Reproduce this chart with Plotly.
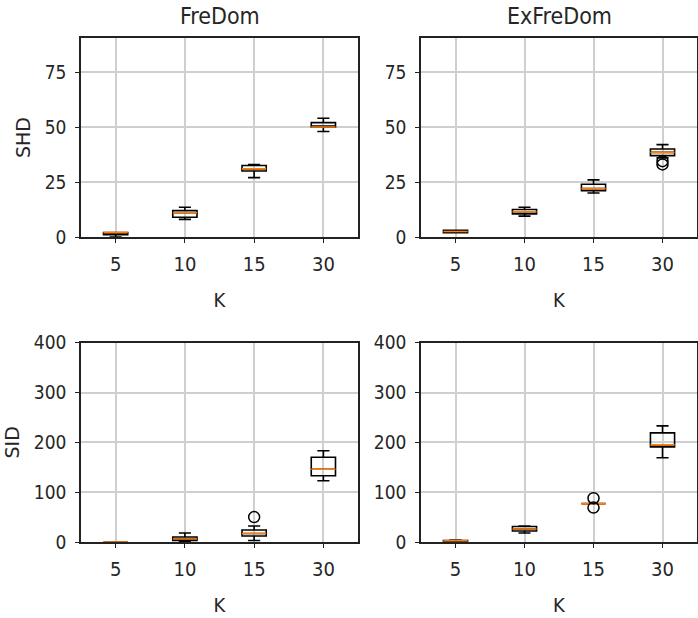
import plotly.graph_objects as go

K_LABELS = ["5", "10", "15", "30"]

# FreDom SHD
fd_shd_low = [0, 8, 27, 48]
fd_shd_q1 = [1, 9, 30, 50]
fd_shd_med = [2, 11, 31, 50]
fd_shd_q3 = [2, 12, 32.5, 52]
fd_shd_high = [2, 13.5, 33, 54]
fd_shd_out_x = []
fd_shd_out_y = []

# ExFreDom SHD
ex_shd_low = [2, 9.5, 20, 36]
ex_shd_q1 = [2, 10.5, 21, 37]
ex_shd_med = [2.5, 11.5, 22, 38.5]
ex_shd_q3 = [3, 12.5, 24, 40]
ex_shd_high = [3, 13.5, 26, 42]
ex_shd_out_x = ["30", "30"]
ex_shd_out_y = [33, 34.5]

# FreDom SID
fd_sid_low = [0, 0, 3, 123]
fd_sid_q1 = [0, 3, 12, 133]
fd_sid_med = [0, 6, 17, 146]
fd_sid_q3 = [0, 10, 24, 170]
fd_sid_high = [0, 18, 32, 183]
fd_sid_out_x = ["15"]
fd_sid_out_y = [50]

# ExFreDom SID
ex_sid_low = [2, 18, 77, 169]
ex_sid_q1 = [2, 22, 77, 191]
ex_sid_med = [3, 26, 77, 195]
ex_sid_q3 = [3, 31, 77, 219]
ex_sid_high = [4, 32, 77, 233]
ex_sid_out_x = ["15", "15"]
ex_sid_out_y = [69, 88]

TITLES = ["FreDom", "ExFreDom"]
YLABELS = ["SHD", "SID"]
XLABEL = "K"

panels = [
    (fd_shd_low, fd_shd_q1, fd_shd_med, fd_shd_q3, fd_shd_high, fd_shd_out_x, fd_shd_out_y),
    (ex_shd_low, ex_shd_q1, ex_shd_med, ex_shd_q3, ex_shd_high, ex_shd_out_x, ex_shd_out_y),
    (fd_sid_low, fd_sid_q1, fd_sid_med, fd_sid_q3, fd_sid_high, fd_sid_out_x, fd_sid_out_y),
    (ex_sid_low, ex_sid_q1, ex_sid_med, ex_sid_q3, ex_sid_high, ex_sid_out_x, ex_sid_out_y),
]

W, H = 698, 618
FONT = "Liberation Sans Narrow, DejaVu Sans Condensed, Liberation Sans, sans-serif"
TXT = "#262626"

fig = go.Figure()
for i, (lo, q1, md, q3, hi, ox, oy) in enumerate(panels):
    n = "" if i == 0 else str(i + 1)
    xa, ya = "x" + n, "y" + n
    fig.add_trace(go.Box(
        x=K_LABELS, lowerfence=lo, q1=q1, median=md, q3=q3, upperfence=hi,
        xaxis=xa, yaxis=ya, boxpoints=False, whiskerwidth=0.5,
        line=dict(color="black", width=1.6), fillcolor="rgba(0,0,0,0)",
        showlegend=False, hoverinfo="skip"))
    fig.add_trace(go.Box(
        x=K_LABELS, lowerfence=md, q1=md, median=md, q3=md, upperfence=md,
        xaxis=xa, yaxis=ya, boxpoints=False, whiskerwidth=0,
        line=dict(color="#ff7f0e", width=1.6), fillcolor="rgba(0,0,0,0)",
        showlegend=False, hoverinfo="skip"))
    if ox:
        fig.add_trace(go.Scatter(
            x=ox, y=oy, mode="markers", xaxis=xa, yaxis=ya,
            marker=dict(symbol="circle-open", size=11, color="black",
                        line=dict(width=1.5, color="black")),
            showlegend=False, hoverinfo="skip"))

xdoms = [[81 / W, 358 / W], [421 / W, 697 / W]]
ydoms = [[1 - 237 / H, 1 - 38 / H], [1 - 542 / H, 1 - 342.7 / H]]
yranges = [[0, 90.5], [0, 400]]
dticks = [25, 100]

axis_common = dict(
    showline=True, linecolor="#222222", linewidth=1.5, mirror=True,
    showgrid=True, gridcolor="#cfcfcf", gridwidth=1.5,
    ticks="outside", ticklen=4, tickwidth=1.2, tickcolor="#222222",
    tickfont=dict(family=FONT, size=19, color=TXT), zeroline=False,
    automargin=False,
)

layout = {}
for i in range(4):
    r, c = divmod(i, 2)
    n = "" if i == 0 else str(i + 1)
    layout["xaxis" + n] = dict(
        axis_common, domain=xdoms[c], anchor="y" + n, type="category",
        range=[-0.5, 3.5], categoryorder="array", categoryarray=K_LABELS,
        tickfont=dict(family=FONT, size=20, color=TXT), ticklabelstandoff=4,
        title=dict(text=XLABEL, font=dict(family=FONT, size=20, color=TXT), standoff=18),
    )
    ya = dict(
        axis_common, domain=ydoms[r], anchor="x" + n, range=yranges[r],
        dtick=dticks[r], tick0=0, ticklabelstandoff=5,
    )
    if c == 0:
        ya["title"] = dict(text=YLABELS[r], font=dict(family="DejaVu Sans", size=19, color=TXT), standoff=9)
    layout["yaxis" + n] = ya

annotations = []
for c in range(2):
    annotations.append(dict(
        text=TITLES[c], xref="paper", yref="paper",
        x=(xdoms[c][0] + xdoms[c][1]) / 2, y=1 - 16 / H,
        xanchor="center", yanchor="middle", showarrow=False,
        font=dict(family=FONT, size=23, color=TXT)))

fig.update_layout(
    width=W, height=H, margin=dict(l=0, r=0, t=0, b=0),
    paper_bgcolor="white", plot_bgcolor="white",
    boxmode="overlay", boxgap=0.5, showlegend=False,
    annotations=annotations, **layout,
)

fig.write_html("out.html")
